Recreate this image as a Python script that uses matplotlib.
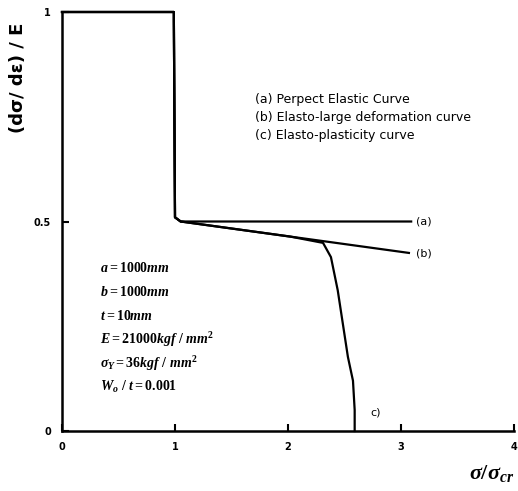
import matplotlib
matplotlib.use('Agg')
import matplotlib.pyplot as plt

# curves: sigma/sigma_cr vs (dsigma/deps)/E
x_a = [0, 0.99, 0.99, 1.0, 1.05, 3.09]
y_a = [1, 1, 0.98, 0.51, 0.50, 0.50]

x_b = [0, 0.99, 0.99, 1.0, 1.05, 3.07]
y_b = [1, 1, 0.98, 0.51, 0.50, 0.425]

x_c = [0, 0.99, 0.99, 1.0, 1.05, 2.02, 2.31, 2.38, 2.44, 2.53, 2.575, 2.59, 2.59]
y_c = [1, 1, 0.98, 0.51, 0.50, 0.464, 0.449, 0.415, 0.336, 0.177, 0.12, 0.05, 0]

curve_labels = ['(a) Perpect Elastic Curve',
                '(b) Elasto-large deformation curve',
                '(c) Elasto-plasticity curve']

params = [r'$a = 1000mm$',
          r'$b = 1000mm$',
          r'$t = 10mm$',
          r'$E = 21000kgf\ /\ mm^2$',
          r'$\sigma_Y = 36kgf\ /\ mm^2$',
          r'$W_o\ /\ t = 0.001$']

xticks = [0, 1, 2, 3, 4]
yticks = [0, 0.5, 1]
yticklabels = ['0', '0.5', '1']

plt.rcParams['mathtext.fontset'] = 'custom'
plt.rcParams['mathtext.rm'] = 'Liberation Serif:bold'
plt.rcParams['mathtext.it'] = 'Liberation Serif:bold:italic'
plt.rcParams['mathtext.bf'] = 'Liberation Serif:bold'

fig = plt.figure(figsize=(5.18, 4.91), dpi=100)
ax = fig.add_axes([62 / 518, 1 - 431 / 491, 452 / 518, 419 / 491])

for xs, ys in [(x_a, y_a), (x_b, y_b), (x_c, y_c)]:
    ax.plot(xs, ys, color='black', lw=1.6, clip_on=False)

ax.set_xlim(0, 4)
ax.set_ylim(0, 1)
for s in ['top', 'right']:
    ax.spines[s].set_visible(False)
for s in ['left', 'bottom']:
    ax.spines[s].set_linewidth(1.8)

ax.set_xticks(xticks)
ax.set_xticklabels([str(v) for v in xticks], fontsize=7, fontweight='bold')
ax.set_yticks(yticks)
ax.set_yticklabels(yticklabels, fontsize=7, fontweight='bold')
ax.tick_params(direction='in', length=5, width=1.5, pad=8)

ax.text(3.13, 0.5, '(a)', fontsize=8, va='center')
ax.text(3.13, 0.423, '(b)', fontsize=8, va='center')
ax.text(2.73, 0.045, 'c)', fontsize=8, va='center')

for i, lab in enumerate(curve_labels):
    fig.text(255 / 518, 1 - (100 + 18 * i) / 491, lab, fontsize=9, va='center')

for i, p in enumerate(params):
    fig.text(100 / 518, 1 - (268 + 23.8 * i) / 491, p, fontsize=10, va='center')

fig.text(18 / 518, 1 - 78 / 491, '(dσ/ dε) / E', rotation=90, fontsize=13,
         fontweight='bold', ha='center', va='center')
fig.text(514 / 518, 1 - 474 / 491, r'$\sigma/\sigma_{cr}$', fontsize=16,
         ha='right', va='center')

fig.savefig('out.png', dpi=100)
